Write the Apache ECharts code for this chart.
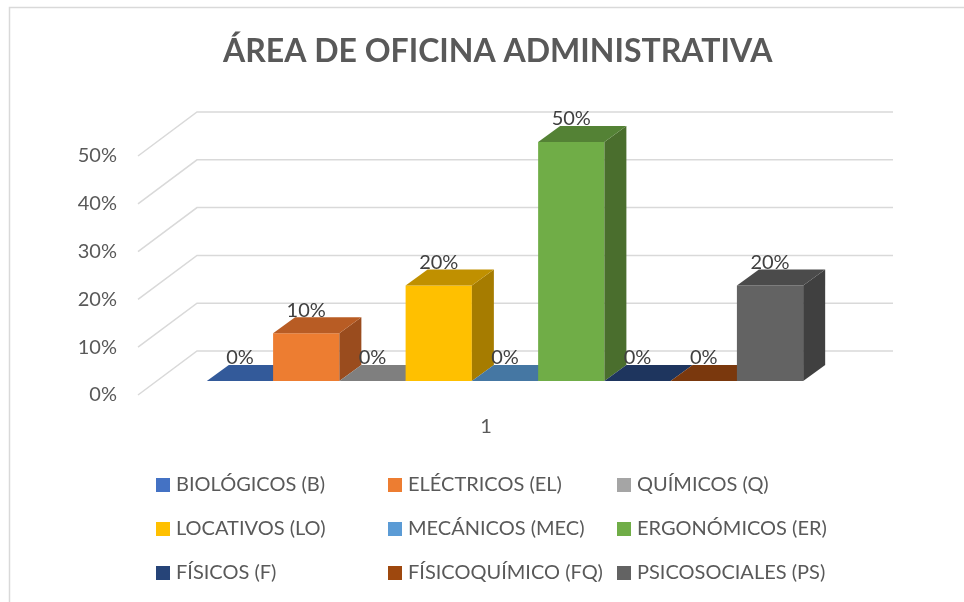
<!DOCTYPE html>
<html>
<head>
<meta charset="utf-8">
<script src="https://cdn.jsdelivr.net/npm/echarts@6/dist/echarts.min.js"></script>
<style>
html,body{margin:0;padding:0;background:#fff;}
#chart{width:964px;height:602px;}
</style>
</head>
<body>
<div id="chart"></div>
<script>
var titleText = 'ÁREA DE OFICINA ADMINISTRATIVA';
var categories = ['1'];
var seriesNames = ['BIOLÓGICOS (B)', 'ELÉCTRICOS (EL)', 'QUÍMICOS (Q)', 'LOCATIVOS (LO)', 'MECÁNICOS (MEC)', 'ERGONÓMICOS (ER)', 'FÍSICOS (F)', 'FÍSICOQUÍMICO (FQ)', 'PSICOSOCIALES (PS)'];
var seriesValues = [0, 0.10, 0, 0.20, 0, 0.50, 0, 0, 0.20];
var yTicks = [0, 0.1, 0.2, 0.3, 0.4, 0.5];

var frontColors = ['#4472C4', '#ED7D31', '#A5A5A5', '#FFC000', '#5B9BD5', '#70AD47', '#264478', '#9E480E', '#636363'];
var topColors   = ['#335A9A', '#B85C24', '#7F7F7F', '#C09000', '#4577A3', '#548235', '#1E355E', '#7A380D', '#4B4B4B'];
var sideColors  = ['#2A4A80', '#9A4C1E', '#6E6E6E', '#A67C00', '#3A6690', '#4A6E2D', '#182B4C', '#62300B', '#404040'];

var FONT = 'Lato, "Liberation Sans", sans-serif';
// perspective offsets (pixels)
var WALL_DX = 59, WALL_DY = 44;   // full floor depth
var BAR_DX0 = 19, BAR_DY0 = 14;   // front face of bars behind front plane
var BAR_DX = 22, BAR_DY = 16;     // bar depth
var BAR_FRAC = 0.0952;            // bar width as fraction of category band

var chart = echarts.init(document.getElementById('chart'));

function gridRender(params, api) {
  var v = api.value(0);
  var p = api.coord([0, v]);
  var band = api.size([1, 0])[0];
  var xl = p[0] - band / 2, xr = p[0] + band / 2;
  var y = p[1];
  return {
    type: 'polyline',
    shape: { points: [[xl, y], [xl + WALL_DX, y - WALL_DY], [xr + WALL_DX, y - WALL_DY]] },
    style: { stroke: '#D9D9D9', lineWidth: 1.5, fill: null },
    silent: true
  };
}

function makeBarRender(i) {
  return function (params, api) {
    var v = api.value(1);
    var c = api.coord([api.value(0), v]);
    var c0 = api.coord([api.value(0), 0]);
    var band = api.size([1, 0])[0];
    var w = band * BAR_FRAC;
    var x0 = c[0] + BAR_DX0 - 4.5 * w + i * w;
    var x1 = x0 + w;
    var yb = c0[1] - BAR_DY0;
    var yt = c[1] - BAR_DY0;
    var children = [];
    if (yb - yt > 0.5) {
      children.push({ type: 'rect', shape: { x: x0, y: yt, width: w, height: yb - yt }, style: { fill: frontColors[i] } });
      children.push({ type: 'polygon', shape: { points: [[x1, yt], [x1 + BAR_DX, yt - BAR_DY], [x1 + BAR_DX, yb - BAR_DY], [x1, yb]] }, style: { fill: sideColors[i] } });
    }
    children.push({ type: 'polygon', shape: { points: [[x0, yt], [x0 + BAR_DX, yt - BAR_DY], [x1 + BAR_DX, yt - BAR_DY], [x1, yt]] }, style: { fill: topColors[i] } });
    children.push({
      type: 'text',
      style: {
        text: Math.round(v * 100) + '%',
        x: (x0 + x1) / 2,
        y: yt - BAR_DY - 7,
        align: 'center',
        verticalAlign: 'middle',
        fill: '#404040',
        font: '20px ' + FONT
      }
    });
    return { type: 'group', children: children };
  };
}

var series = [{
  type: 'custom',
  name: '__grid',
  renderItem: gridRender,
  data: yTicks.map(function (t) { return [t]; }),
  encode: { y: 0 },
  silent: true,
  z: 1
}];
seriesNames.forEach(function (n, i) {
  series.push({
    type: 'custom',
    name: n,
    renderItem: makeBarRender(i),
    itemStyle: { color: frontColors[i] },
    data: [[0, seriesValues[i]]],
    encode: { x: 0, y: 1 },
    z: 2
  });
});

function legendCol(left, names) {
  return {
    orient: 'vertical',
    left: left,
    top: 475,
    padding: 0,
    icon: 'rect',
    itemWidth: 14,
    itemHeight: 14,
    itemGap: 24,
    data: names,
    selectedMode: false,
    textStyle: { color: '#595959', fontSize: 20, fontFamily: FONT, padding: [0, 0, 0, 1] }
  };
}

chart.setOption({
  animation: false,
  backgroundColor: '#fff',
  title: {
    text: titleText,
    left: 218,
    top: 31,
    textStyle: { color: '#595959', fontSize: 32, fontWeight: 'bold', fontFamily: FONT }
  },
  graphic: [{
    type: 'rect',
    shape: { x: 9.5, y: 7.5, width: 1000, height: 700 },
    style: { fill: null, stroke: '#D9D9D9', lineWidth: 1.5 },
    silent: true
  }],
  legend: [
    legendCol(156, [seriesNames[0], seriesNames[3], seriesNames[6]]),
    legendCol(388, [seriesNames[1], seriesNames[4], seriesNames[7]]),
    legendCol(617, [seriesNames[2], seriesNames[5], seriesNames[8]])
  ],
  grid: { left: 138, right: 130, top: 156, bottom: 207, containLabel: false },
  xAxis: {
    type: 'category',
    data: categories,
    axisLine: { show: false },
    axisTick: { show: false },
    splitLine: { show: false },
    axisLabel: { color: '#595959', fontSize: 20, fontFamily: FONT, margin: 22 }
  },
  yAxis: {
    type: 'value',
    min: 0,
    max: 0.5,
    interval: 0.1,
    axisLine: { show: false },
    axisTick: { show: false },
    splitLine: { show: false },
    axisLabel: {
      color: '#595959', fontSize: 20, fontFamily: FONT, margin: 21,
      formatter: function (v) { return Math.round(v * 100) + '%'; }
    }
  },
  series: series
});
</script>
</body>
</html>
